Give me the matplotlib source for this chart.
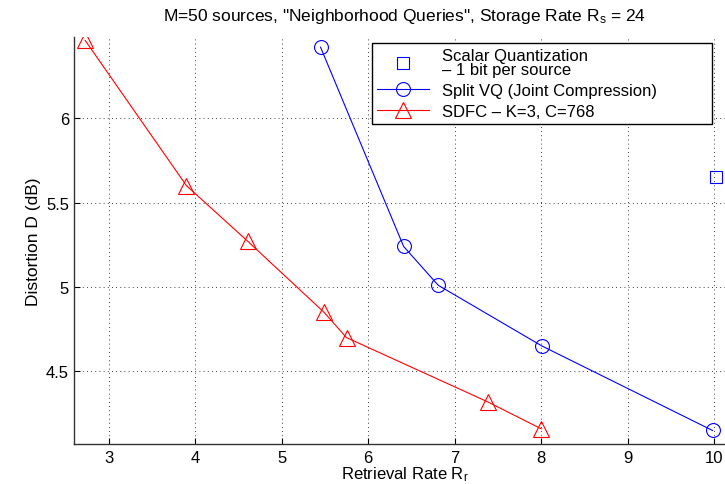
import matplotlib.pyplot as plt

plt.rcParams['font.family'] = ['Liberation Sans', 'DejaVu Sans']
plt.rcParams['mathtext.fontset'] = 'custom'
plt.rcParams['mathtext.rm'] = 'Liberation Sans'
plt.rcParams['mathtext.it'] = 'Liberation Sans'

sq_x = [10.02]
sq_y = [5.65]

vq_x = [5.45, 6.41, 6.81, 8.01, 9.98]
vq_y = [6.42, 5.24, 5.01, 4.65, 4.15]

sdfc_x = [2.73, 3.90, 4.61, 5.49, 5.75, 7.38, 8.00]
sdfc_y = [6.46, 5.60, 5.27, 4.85, 4.70, 4.32, 4.16]

xticks = [3, 4, 5, 6, 7, 8, 9, 10]
yticks = [4.5, 5, 5.5, 6]

fig = plt.figure(figsize=(7.25, 4.85), dpi=100)
ax = fig.add_axes([0.102, 0.0825, 0.913, 0.839])

ax.plot(sq_x, sq_y, linestyle='none', marker='s', color='blue', mfc='none',
        markersize=9, mew=0.8, label='Scalar Quantization\n\u2013 1 bit per source')
ax.plot(vq_x, vq_y, '-', marker='o', color='blue', mfc='none', lw=0.8,
        markersize=10, mew=0.8, label='Split VQ (Joint Compression)')
ax.plot(sdfc_x, sdfc_y, '-', marker='^', color='red', mfc='none', lw=0.8,
        markersize=12, mew=0.8, label='SDFC \u2013 K=3, C=768')

ax.set_xlim(2.6, 10.25)
ax.set_ylim(4.07, 6.48)
ax.set_xticks(xticks)
ax.set_xticklabels([str(t) for t in xticks])
ax.set_yticks(yticks)
ax.set_yticklabels(['4.5', '5', '5.5', '6'])
ax.tick_params(direction='in', labelsize=12, length=4)
ax.tick_params(axis='x', pad=4)
ax.grid(True, color='black', linestyle=(0, (1, 4)), linewidth=0.6)
for s in ['top', 'right']:
    ax.spines[s].set_visible(False)
for s in ['left', 'bottom']:
    ax.spines[s].set_linewidth(1.0)
    ax.spines[s].set_color('#333333')

ax.set_title('M=50 sources, "Neighborhood Queries", Storage Rate R$_s$ = 24',
             fontsize=12.5, pad=12)
ax.set_xlabel('Retrieval Rate R$_r$', fontsize=12, labelpad=0)
ax.set_ylabel('Distortion D (dB)', fontsize=12.5, labelpad=4)

leg = ax.legend(loc='upper left',
                bbox_to_anchor=(372 / 725, 1 - 125 / 485, 340 / 725, 81 / 485),
                bbox_transform=fig.transFigure, mode='expand',
                fontsize=12, frameon=True, fancybox=False, framealpha=1,
                edgecolor='black', handlelength=3.1, borderpad=0.3,
                labelspacing=0.35, handletextpad=0.8, borderaxespad=0)
leg.get_frame().set_linewidth(1.0)
for t in leg.get_texts():
    t.set_linespacing(0.95)

fig.savefig('out.png', dpi=100)
